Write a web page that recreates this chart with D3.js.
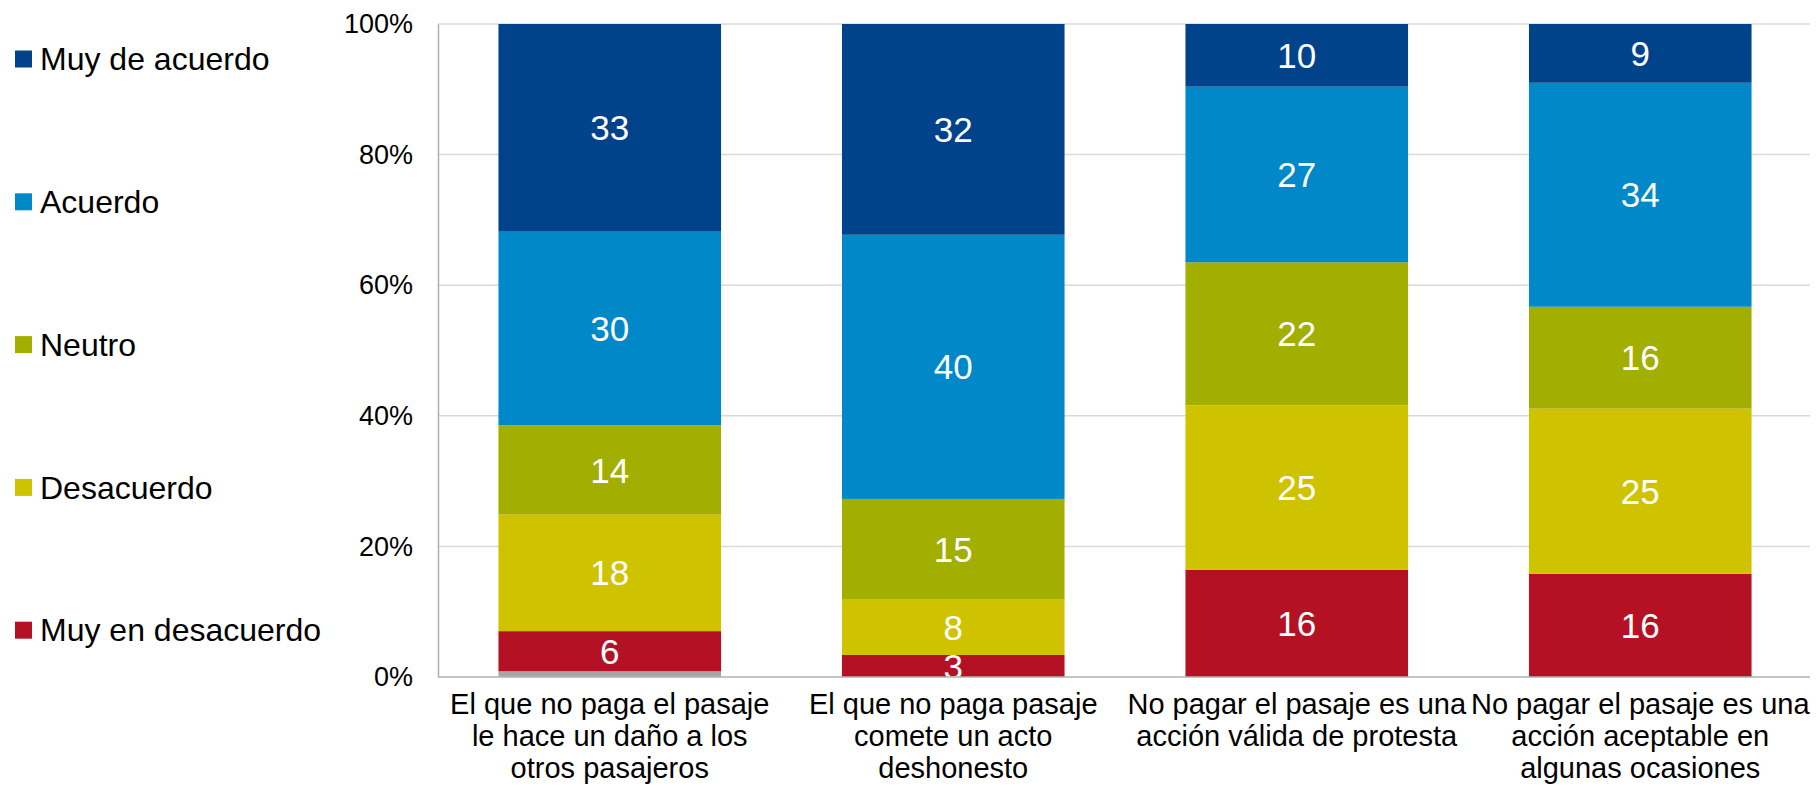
<!DOCTYPE html>
<html>
<head>
<meta charset="utf-8">
<script src="https://d3js.org/d3.v7.min.js"></script>
<style>
  body { margin: 0; background: #fff; }
  text { font-family: "Liberation Sans", Arial, sans-serif; }
</style>
</head>
<body>
<div id="my_dataviz"></div>
<script>
// categories (line breaks as in the original axis labels)
const categories = [
  "El que no paga el pasaje\nle hace un daño a los\notros pasajeros",
  "El que no paga pasaje\ncomete un acto\ndeshonesto",
  "No pagar el pasaje es una\nacción válida de protesta",
  "No pagar el pasaje es una\nacción aceptable en\nalgunas ocasiones"
];

// series values, bottom to top (each bar is shown as 100%)
const sinRespuesta     = [0.9, 0, 0, 0];
const muyEnDesacuerdo  = [6.3, 3.3, 16.4, 15.8];
const desacuerdo       = [18.3, 8.3, 25.2, 25.3];
const neutro           = [14.0, 15.1, 21.9, 15.6];
const acuerdo          = [30.4, 39.6, 26.9, 34.3];
const muyDeAcuerdo     = [32.6, 31.6, 9.6, 9.0];

const seriesNames = ["NS/NR", "Muy en desacuerdo", "Desacuerdo", "Neutro", "Acuerdo", "Muy de acuerdo"];
const seriesValues = [sinRespuesta, muyEnDesacuerdo, desacuerdo, neutro, acuerdo, muyDeAcuerdo];
const seriesColors = ["#A6A6A6", "#B41224", "#CFC300", "#A2AE00", "#0088C8", "#00438A"];
const legendNames = ["Muy de acuerdo", "Acuerdo", "Neutro", "Desacuerdo", "Muy en desacuerdo"];

const yTicks = [0, 0.2, 0.4, 0.6, 0.8, 1];

// set the dimensions of the graph
const W = 1816, H = 786;
const plotLeft = 438, plotRight = 1812, plotTop = 24, plotBottom = 677;

const svg = d3.select("#my_dataviz")
  .append("svg")
  .attr("width", W)
  .attr("height", H);

// table for d3.stack
const table = categories.map((c, i) => {
  const row = { cat: c };
  seriesNames.forEach((s, j) => row[s] = seriesValues[j][i]);
  return row;
});
const stacked = d3.stack().keys(seriesNames).offset(d3.stackOffsetExpand)(table);

const x = d3.scaleBand()
  .domain(categories)
  .range([plotLeft, plotRight])
  .paddingInner(0.352)
  .paddingOuter(0.176);

const y = d3.scaleLinear().domain([0, 1]).range([plotBottom, plotTop]);

const color = d3.scaleOrdinal().domain(seriesNames).range(seriesColors);

// gridlines
svg.append("g")
  .selectAll("line")
  .data(yTicks.filter(t => t > 0))
  .join("line")
  .attr("x1", plotLeft).attr("x2", 1810)
  .attr("y1", d => y(d)).attr("y2", d => y(d))
  .attr("stroke", "#D9D9D9")
  .attr("stroke-width", 1.5);

// y axis
const yAxis = svg.append("g")
  .attr("transform", `translate(${plotLeft},0)`)
  .call(d3.axisLeft(y).tickValues(yTicks).tickFormat(d3.format(".0%")).tickSize(0).tickPadding(25));
yAxis.select(".domain").attr("stroke", "#B0B0B0").attr("stroke-width", 1.5);
yAxis.selectAll("text")
  .style("font-size", "27px")
  .style("font-family", '"Liberation Sans", Arial, sans-serif')
  .attr("fill", "#000");

// bars
const groups = svg.append("g")
  .selectAll("g")
  .data(stacked)
  .join("g")
  .attr("fill", d => color(d.key));

groups.selectAll("rect")
  .data(d => d.map((v, i) => ({ v, i, key: d.key })))
  .join("rect")
  .attr("x", d => x(categories[d.i]))
  .attr("y", d => y(d.v[1]))
  .attr("width", x.bandwidth())
  .attr("height", d => y(d.v[0]) - y(d.v[1]));

// value labels
svg.append("g")
  .selectAll("text")
  .data(stacked.filter(s => s.key !== "NS/NR")
    .flatMap(s => s.map((v, i) => ({ v, i, key: s.key, val: seriesValues[seriesNames.indexOf(s.key)][i] }))))
  .join("text")
  .attr("x", d => x(categories[d.i]) + x.bandwidth() / 2)
  .attr("y", d => y((d.v[0] + d.v[1]) / 2))
  .attr("dy", "0.36em")
  .attr("text-anchor", "middle")
  .attr("fill", "#fff")
  .style("font-size", "35px")
  .text(d => Math.round(d.val));

// x axis
const xAxis = svg.append("g")
  .attr("transform", `translate(0,${plotBottom})`)
  .call(d3.axisBottom(x).tickSize(0).tickFormat(""));
xAxis.select(".domain").attr("d", `M${plotLeft},0H1810`).attr("stroke", "#B0B0B0").attr("stroke-width", 1.5);

const xLabels = svg.append("g")
  .selectAll("text")
  .data(categories)
  .join("text")
  .attr("x", d => x(d) + x.bandwidth() / 2)
  .attr("y", plotBottom + 37)
  .attr("text-anchor", "middle")
  .attr("fill", "#000")
  .style("font-size", "29px");
xLabels.selectAll("tspan")
  .data(d => d.split("\n"))
  .join("tspan")
  .attr("x", function () { return this.parentNode.getAttribute("x"); })
  .attr("dy", (d, i) => i === 0 ? 0 : 32)
  .text(d => d);

// legend
const legend = svg.append("g")
  .selectAll("g")
  .data(legendNames)
  .join("g")
  .attr("transform", (d, i) => `translate(15,${59 + i * 142.8})`);
legend.append("rect")
  .attr("x", 0).attr("y", -8.5)
  .attr("width", 17).attr("height", 17)
  .attr("fill", d => color(d));
legend.append("text")
  .attr("x", 25)
  .attr("y", 0)
  .attr("dy", "0.35em")
  .attr("fill", "#000")
  .style("font-size", "32px")
  .text(d => d);
</script>
</body>
</html>
